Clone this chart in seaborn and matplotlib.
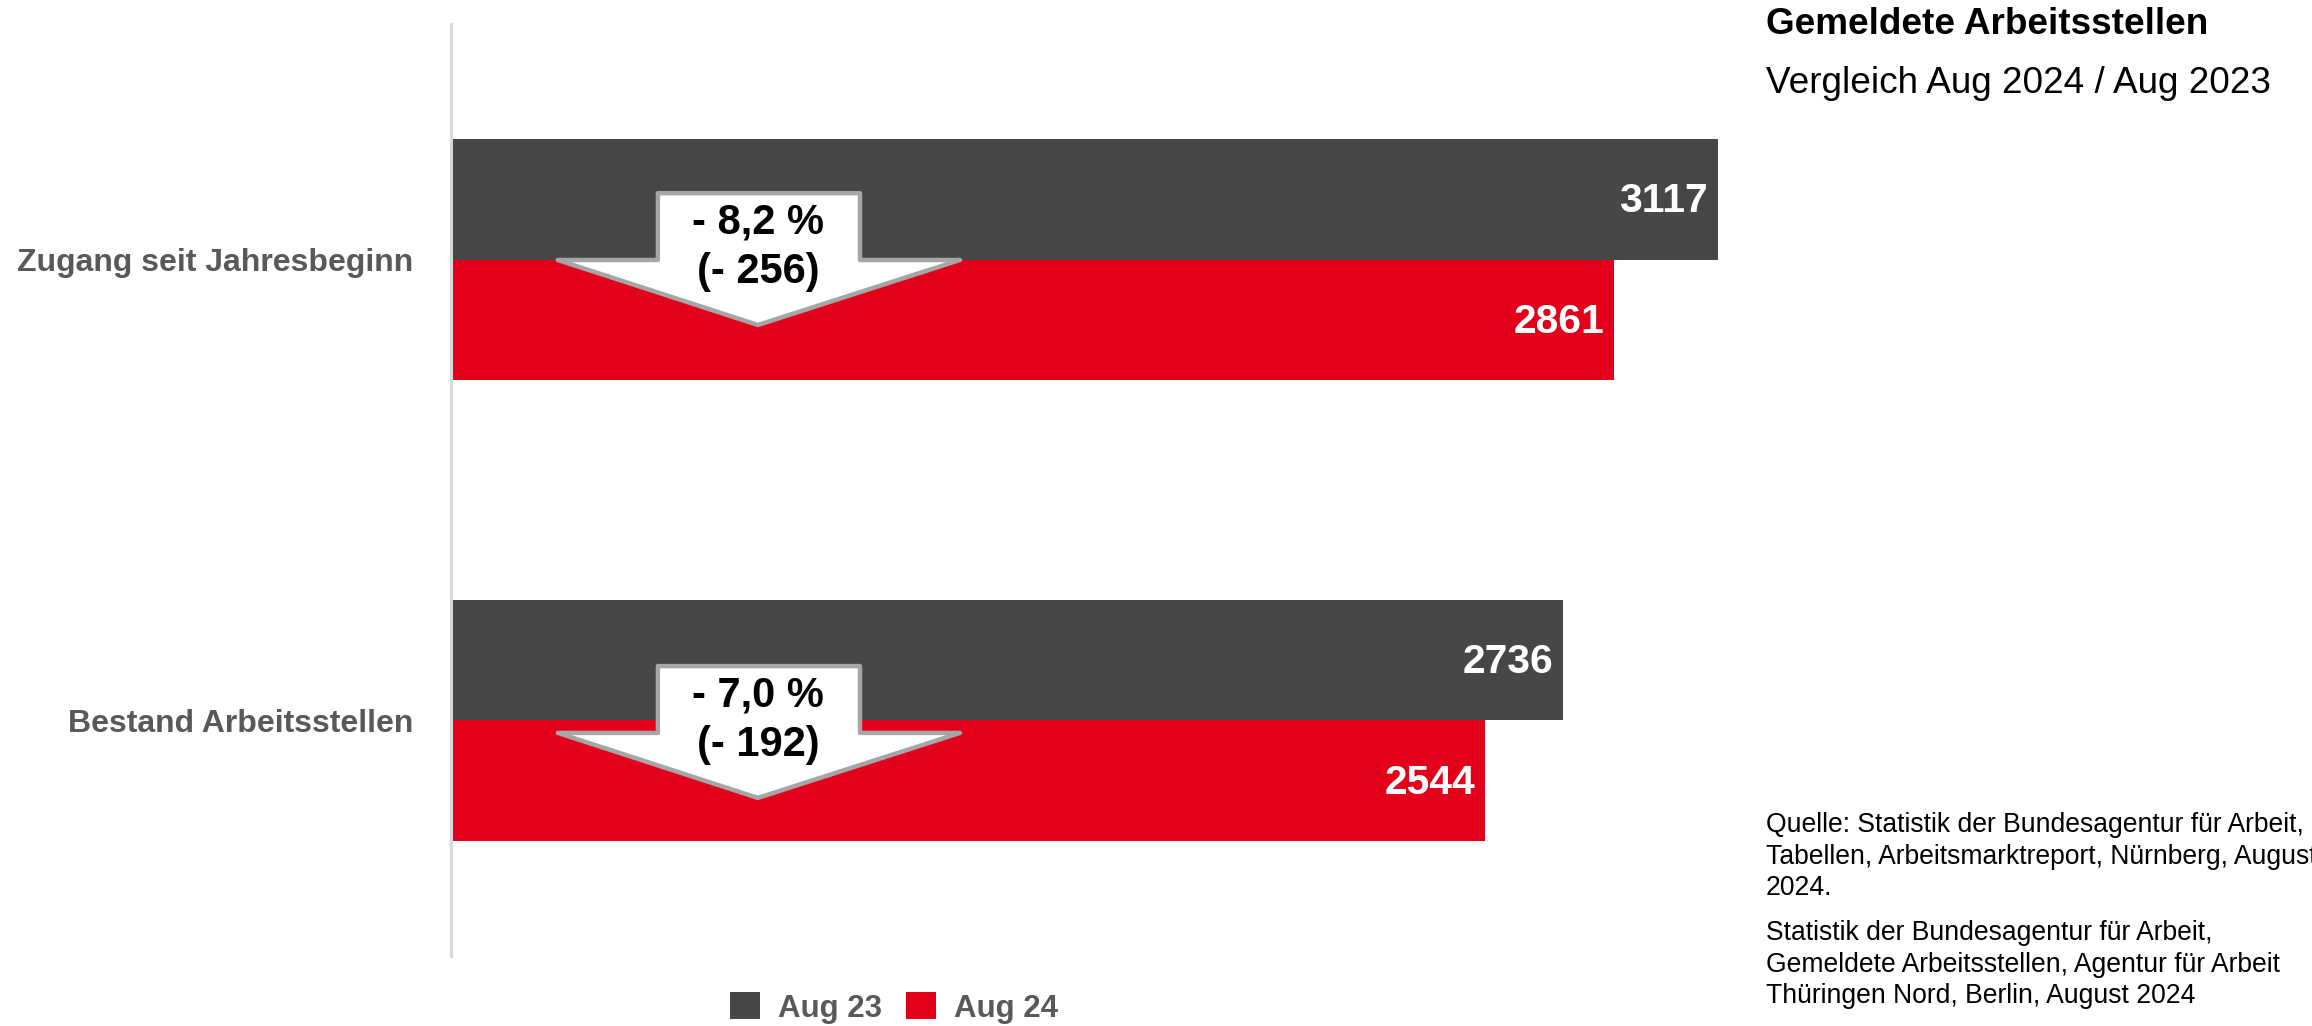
import matplotlib
matplotlib.use("Agg")
import matplotlib.pyplot as plt
from matplotlib.patches import Polygon
import pandas as pd
import seaborn as sns

# ---------------- data ----------------
categories = ["Zugang seit Jahresbeginn", "Bestand Arbeitsstellen"]
series = ["Aug 23", "Aug 24"]
values_aug23 = [3117, 2736]
values_aug24 = [2861, 2544]

title = "Gemeldete Arbeitsstellen"
subtitle = "Vergleich Aug 2024 / Aug 2023"
source_1 = ["Quelle: Statistik der Bundesagentur für Arbeit,",
            "Tabellen, Arbeitsmarktreport, Nürnberg, August",
            "2024."]
source_2 = ["Statistik der Bundesagentur für Arbeit,",
            "Gemeldete Arbeitsstellen, Agentur für Arbeit",
            "Thüringen Nord, Berlin, August 2024"]

# ---------------- style ----------------
colors = ["#474747", "#e2001a"]
label_grey = "#595959"
W, H = 2312, 1026

df = pd.DataFrame({
    "Kategorie": categories * 2,
    "Serie": [series[0]] * len(categories) + [series[1]] * len(categories),
    "Wert": values_aug23 + values_aug24,
})

sns.set_theme(style="white")
plt.rcParams["font.family"] = ["Liberation Sans", "DejaVu Sans"]

fig = plt.figure(figsize=(W / 100, H / 100), dpi=100)
xmax = 3320
px_per_unit = 1267.5 / 3117.0
ax_left, ax_top, ax_bottom = 450.5, 24, 956
ax = fig.add_axes([ax_left / W, 1 - ax_bottom / H,
                   xmax * px_per_unit / W, (ax_bottom - ax_top) / H])

sns.barplot(data=df, y="Kategorie", x="Wert", hue="Serie",
            order=categories, hue_order=series, palette=colors,
            saturation=1, width=0.523, orient="h", linewidth=0,
            ax=ax)

ax.set_xlim(0, xmax)
ax.set_ylim(1.511, -0.511)
ax.set_xlabel("")
ax.set_ylabel("")
ax.set_xticks([])
for s in ["top", "right", "bottom"]:
    ax.spines[s].set_visible(False)
ax.spines["left"].set_color("#d9d9d9")
ax.spines["left"].set_linewidth(2.2)
ax.tick_params(axis="y", length=0, pad=27, labelsize=23, labelcolor=label_grey)
for lbl in ax.get_yticklabels():
    lbl.set_fontweight("bold")

# value labels inside bar ends
for container in ax.containers:
    for bar in container:
        v = bar.get_width()
        yc = bar.get_y() + bar.get_height() / 2
        ax.annotate(f"{int(round(v))}", (v, yc), xytext=(-10, -2),
                    textcoords="offset pixels", ha="right", va="center",
                    color="white", fontsize=29.3, fontweight="bold", zorder=6)

# change arrows
shaft_x = (510, 1007)
wing_x = (264, 1253)
tip_x = 756
shaft_top, tip_dy = -0.145, 0.141
arrow_dy = [0.001, 0.027]
yticks = ax.get_yticks()
for i, cat in enumerate(categories):
    base = yticks[i] + arrow_dy[i]
    pts = [(shaft_x[0], base + shaft_top), (shaft_x[1], base + shaft_top),
           (shaft_x[1], base), (wing_x[1], base), (tip_x, base + tip_dy),
           (wing_x[0], base), (shaft_x[0], base)]
    ax.add_patch(Polygon(pts, closed=True, facecolor="white",
                         edgecolor="#a6a6a6", linewidth=3.2,
                         joinstyle="round", zorder=7))
    diff = values_aug24[i] - values_aug23[i]
    pct = diff / values_aug23[i] * 100
    line1 = f"- {abs(pct):.1f} %".replace(".", ",")
    line2 = f"(- {abs(diff)})"
    ax.text(tip_x, base - 0.082, line1, ha="center", va="center",
            fontsize=30, fontweight="bold", color="black", zorder=8)
    ax.text(tip_x, base + 0.026, line2, ha="center", va="center",
            fontsize=30, fontweight="bold", color="black", zorder=8)

# legend
handles, labels = ax.get_legend_handles_labels()
if ax.get_legend() is not None:
    ax.get_legend().remove()
fig.legend(handles, labels, loc="center", bbox_to_anchor=(894 / W, 1 - 1008 / H),
           ncol=2, frameon=False, prop={"weight": "bold", "size": 22.5},
           labelcolor=label_grey, handlelength=0.96, handleheight=0.96,
           handletextpad=0.6, columnspacing=0.75, borderpad=0)

# titles
tx = 1766 / W
fig.text(tx, 1 - 34 / H, title, fontsize=26.6, fontweight="bold",
         color="black", ha="left", va="baseline")
fig.text(tx, 1 - 93 / H, subtitle, fontsize=26.6, color="black",
         ha="left", va="baseline")

for yb, line in zip([832, 864, 895], source_1):
    fig.text(tx, 1 - yb / H, line, fontsize=19.1, color="black",
             ha="left", va="baseline")
for yb, line in zip([940, 972, 1003], source_2):
    fig.text(tx, 1 - yb / H, line, fontsize=19.1, color="black",
             ha="left", va="baseline")

fig.savefig("out.png", dpi=100)
